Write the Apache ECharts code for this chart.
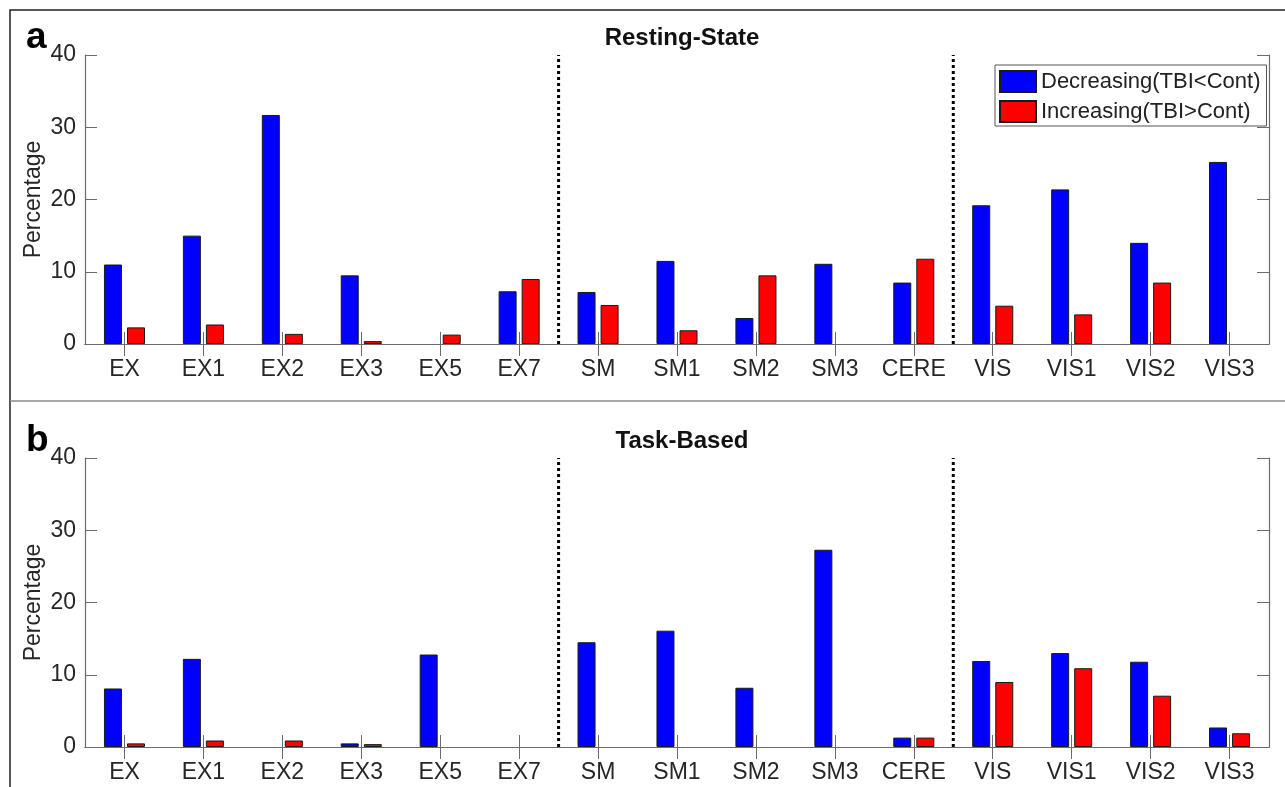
<!DOCTYPE html>
<html>
<head>
<meta charset="utf-8">
<script src="https://cdn.jsdelivr.net/npm/echarts@6/dist/echarts.min.js"></script>
<style>
html,body{margin:0;padding:0;background:#fff;}
#chart{width:1285px;height:787px;}
</style>
</head>
<body>
<div id="chart"></div>
<script>
// ---- data ----
const categories = ['EX','EX1','EX2','EX3','EX5','EX7','SM','SM1','SM2','SM3','CERE','VIS','VIS1','VIS2','VIS3'];
const seriesNames = ['Decreasing(TBI<Cont)', 'Increasing(TBI>Cont)'];
const restDecreasing = [11.0, 15.0, 31.7, 9.5, 0, 7.3, 7.2, 11.5, 3.6, 11.1, 8.5, 19.2, 21.4, 14.0, 25.2];
const restIncreasing = [2.3, 2.7, 1.4, 0.4, 1.3, 9.0, 5.4, 1.9, 9.5, 0, 11.8, 5.3, 4.1, 8.5, 0];
const taskDecreasing = [8.1, 12.2, 0, 0.5, 12.8, 0, 14.5, 16.1, 8.2, 27.3, 1.3, 11.9, 13.0, 11.8, 2.7];
const taskIncreasing = [0.5, 0.9, 0.9, 0.4, 0, 0, 0, 0, 0, 0, 1.3, 9.0, 10.9, 7.1, 1.9];
const yTicks = [0, 10, 20, 30, 40];
const groupEnds = ['EX7', 'CERE'];   // dotted separators after these categories
const panelTitles = ['Resting-State', 'Task-Based'];
const panelLetters = ['a', 'b'];

// ---- layout ----
const FONT = '"Liberation Sans", Arial, sans-serif';
const TXT = '#262626';
const AX = '#6b6b6b';
const gridLeft = 85, gridWidth = 1184, gridHeight = 289;
const gridTops = [55, 458];
const yMin = yTicks[0], yMax = yTicks[yTicks.length - 1], yStep = yTicks[1] - yTicks[0];
const breakPositions = groupEnds.map(c => categories.indexOf(c) + 1.5);

const chart = echarts.init(document.getElementById('chart'));

const grids = [], xAxes = [], yAxes = [], series = [], titles = [];
const panels = [[restDecreasing, restIncreasing], [taskDecreasing, taskIncreasing]];

panels.forEach((vals, p) => {
  grids.push({left: gridLeft, top: gridTops[p], width: gridWidth, height: gridHeight, containLabel: false});
  const xb = xAxes.length;
  xAxes.push({
    type: 'category', gridIndex: p, data: categories, position: 'bottom',
    axisLine: {show: true, lineStyle: {color: AX, width: 1.2}},
    axisTick: {show: true, inside: true, length: 12, interval: 0, alignWithLabel: true, lineStyle: {color: AX}},
    axisLabel: {color: TXT, fontFamily: FONT, fontSize: 23, margin: 14, interval: 0, hideOverlap: false},
    splitLine: {show: false}
  });
  xAxes.push({
    type: 'category', gridIndex: p, data: categories, position: 'top',
    axisLine: {show: true, lineStyle: {color: AX, width: 1.2}},
    axisTick: {show: true, inside: true, length: 12, interval: 0, alignWithLabel: true, lineStyle: {color: AX}},
    axisLabel: {show: false, interval: 0}, splitLine: {show: false}
  });
  xAxes.push({
    type: 'value', gridIndex: p, min: 0.5, max: categories.length + 0.5, show: false
  });
  const yl = yAxes.length;
  yAxes.push({
    type: 'value', gridIndex: p, min: yMin, max: yMax, interval: yStep, position: 'left',
    name: 'Percentage', nameLocation: 'middle', nameGap: 40, nameMoveOverlap: false,
    nameTextStyle: {color: TXT, fontFamily: FONT, fontSize: 23},
    axisLine: {show: true, lineStyle: {color: AX, width: 1.2}},
    axisTick: {show: true, inside: true, length: 12, lineStyle: {color: AX}},
    axisLabel: {color: TXT, fontFamily: FONT, fontSize: 23, margin: 9},
    splitLine: {show: false}
  });
  yAxes.push({
    type: 'value', gridIndex: p, min: yMin, max: yMax, interval: yStep, position: 'right',
    axisLine: {show: true, lineStyle: {color: AX, width: 1.2}},
    axisTick: {show: true, inside: true, length: 12, lineStyle: {color: AX}},
    axisLabel: {show: false}, splitLine: {show: false}
  });
  const colors = ['#0000ff', '#ff0000'];
  vals.forEach((arr, s) => {
    series.push({
      type: 'bar', name: seriesNames[s], xAxisIndex: xb, yAxisIndex: yl,
      data: arr.map(v => v === 0 ? {value: v, itemStyle: {borderWidth: 0}} : v),
      barWidth: 18, barGap: '28%',
      itemStyle: {color: colors[s], borderColor: '#1a1a1a', borderWidth: 1},
      emphasis: {disabled: true}, z: 3
    });
  });
  breakPositions.forEach(bp => {
    series.push({
      type: 'line', xAxisIndex: xb + 2, yAxisIndex: yl,
      data: [[bp, yMin], [bp, yMax]], symbol: 'none', silent: true,
      lineStyle: {color: '#000', width: 3, type: [3, 3]}, z: 4
    });
  });
  titles.push({
    text: panelTitles[p], left: gridLeft + gridWidth / 2, textAlign: 'center',
    top: gridTops[p] - 34,
    textStyle: {fontFamily: FONT, fontWeight: 'bold', fontSize: 24, color: '#111'}
  });
  titles.push({
    text: panelLetters[p], left: 21, top: gridTops[p] - 41,
    textStyle: {fontFamily: FONT, fontWeight: 'bold', fontSize: 37, color: '#000'}
  });
});

chart.setOption({
  backgroundColor: '#fff',
  animation: false,
  title: titles,
  grid: grids,
  xAxis: xAxes,
  yAxis: yAxes,
  legend: {
    data: seriesNames, orient: 'vertical', left: 995, top: 65,
    icon: 'rect',
    itemWidth: 36, itemHeight: 21, itemGap: 7,
    padding: [5, 6, 3, 4],
    borderColor: '#555', borderWidth: 1, backgroundColor: '#fff',
    textStyle: {fontFamily: FONT, fontSize: 22, color: '#222'},
    selectedMode: false
  },
  graphic: [
    {type: 'rect', shape: {x: 10, y: 10, width: 1300, height: 800},
     style: {fill: null, stroke: '#222', lineWidth: 1.5}, silent: true, z: -1},
    {type: 'line', shape: {x1: 10, y1: 401, x2: 1285, y2: 401},
     style: {stroke: '#8a8a8a', lineWidth: 1.5}, silent: true, z: -1}
  ],
  series: series
});
</script>
</body>
</html>
